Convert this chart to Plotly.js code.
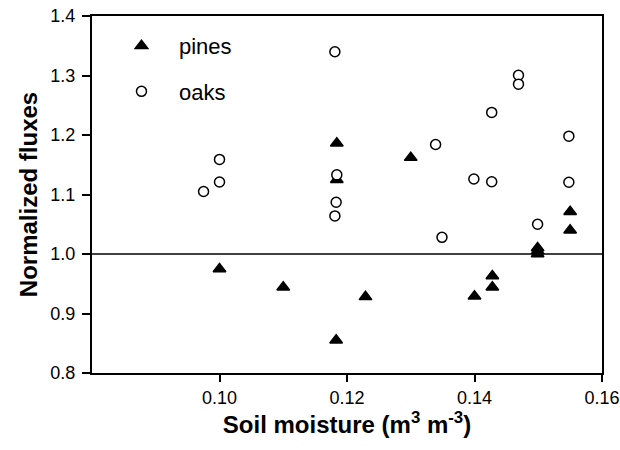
<!DOCTYPE html>
<html>
<head>
<meta charset="utf-8">
<script src="https://cdn.plot.ly/plotly-3.0.1.min.js"></script>
<style>
  html, body { margin: 0; padding: 0; background: #ffffff; }
  #chart { width: 620px; height: 450px; }
</style>
</head>
<body>
<div id="chart"></div>
<script>
// Soil moisture (m3 m-3) and normalized flux for each tree group
const pinesMoisture = [0.1000, 0.1100, 0.1184, 0.1184, 0.1183, 0.1229, 0.1300, 0.1400,
                       0.1428, 0.1428, 0.1499, 0.1499, 0.1499, 0.1550, 0.1550];
const pinesFlux     = [0.975, 0.944, 1.186, 1.125, 0.855, 0.928, 1.162, 0.929,
                       0.963, 0.944, 1.010, 1.005, 1.000, 1.071, 1.040];

const oaksMoisture  = [0.0975, 0.1000, 0.1000, 0.1181, 0.1184, 0.1183, 0.1181, 0.1339, 0.1349,
                       0.1399, 0.1427, 0.1427, 0.1469, 0.1469, 0.1499, 0.1548, 0.1548];
const oaksFlux      = [1.105, 1.159, 1.121, 1.340, 1.133, 1.087, 1.064, 1.184, 1.028,
                       1.126, 1.238, 1.1215, 1.3005, 1.2855, 1.050, 1.198, 1.1205];

const seriesNames = ['pines', 'oaks'];
const xTicks = [0.10, 0.12, 0.14, 0.16];
const yTicks = [0.8, 0.9, 1.0, 1.1, 1.2, 1.3, 1.4];
const referenceLevel = 1.0;

const FONT = 'Arial, "Liberation Sans", sans-serif';

const traces = [
  {
    x: pinesMoisture, y: pinesFlux, name: seriesNames[0],
    type: 'scatter', mode: 'markers', legendgroup: 'g1',
    marker: { symbol: 'triangle-up', size: 11, color: '#000000',
              line: { color: '#000000', width: 1.5 } },
    hoverinfo: 'x+y'
  },
  {
    x: oaksMoisture, y: oaksFlux, name: seriesNames[1],
    type: 'scatter', mode: 'markers', legendgroup: 'g2',
    marker: { symbol: 'circle', size: 10, color: '#ffffff',
              line: { color: '#000000', width: 1.5 } },
    hoverinfo: 'x+y'
  }
];

const axisCommon = {
  showline: true, linecolor: '#000000', linewidth: 2, mirror: true,
  showgrid: false, zeroline: false,
  ticks: 'outside', tickcolor: '#000000', tickwidth: 2,
  tickfont: { family: FONT, size: 18, color: '#000000' }
};

const layout = {
  width: 620, height: 450,
  paper_bgcolor: '#ffffff', plot_bgcolor: '#ffffff',
  margin: { l: 92, r: 18, t: 16, b: 77 },
  showlegend: true,
  legend: {
    x: 0.0235, y: 0.975, xanchor: 'left', yanchor: 'top',
    bgcolor: 'rgba(0,0,0,0)', borderwidth: 0,
    traceorder: 'grouped', tracegroupgap: 14,
    itemwidth: 65,
    font: { family: FONT, size: 22, color: '#000000' }
  },
  xaxis: Object.assign({}, axisCommon, {
    range: [0.08, 0.16], tickvals: xTicks, tickformat: '.2f',
    ticklen: 7, ticklabelstandoff: 0,
    title: { text: 'Soil moisture (m<sup>3</sup> m<sup>-3</sup>)', standoff: 2,
             font: { family: FONT, size: 24, color: '#000000', weight: 'bold' } }
  }),
  yaxis: Object.assign({}, axisCommon, {
    range: [0.8, 1.4], tickvals: yTicks, tickformat: '.1f',
    ticklen: 8, ticklabelstandoff: 3,
    title: { text: 'Normalized fluxes', standoff: 6,
             font: { family: FONT, size: 24, color: '#000000', weight: 'bold' } }
  }),
  shapes: [{
    type: 'line', xref: 'paper', yref: 'y',
    x0: 0, x1: 1, y0: referenceLevel, y1: referenceLevel,
    line: { color: '#000000', width: 1.5 }, layer: 'below'
  }]
};

Plotly.newPlot('chart', traces, layout, { displayModeBar: false, staticPlot: true });
</script>
</body>
</html>
